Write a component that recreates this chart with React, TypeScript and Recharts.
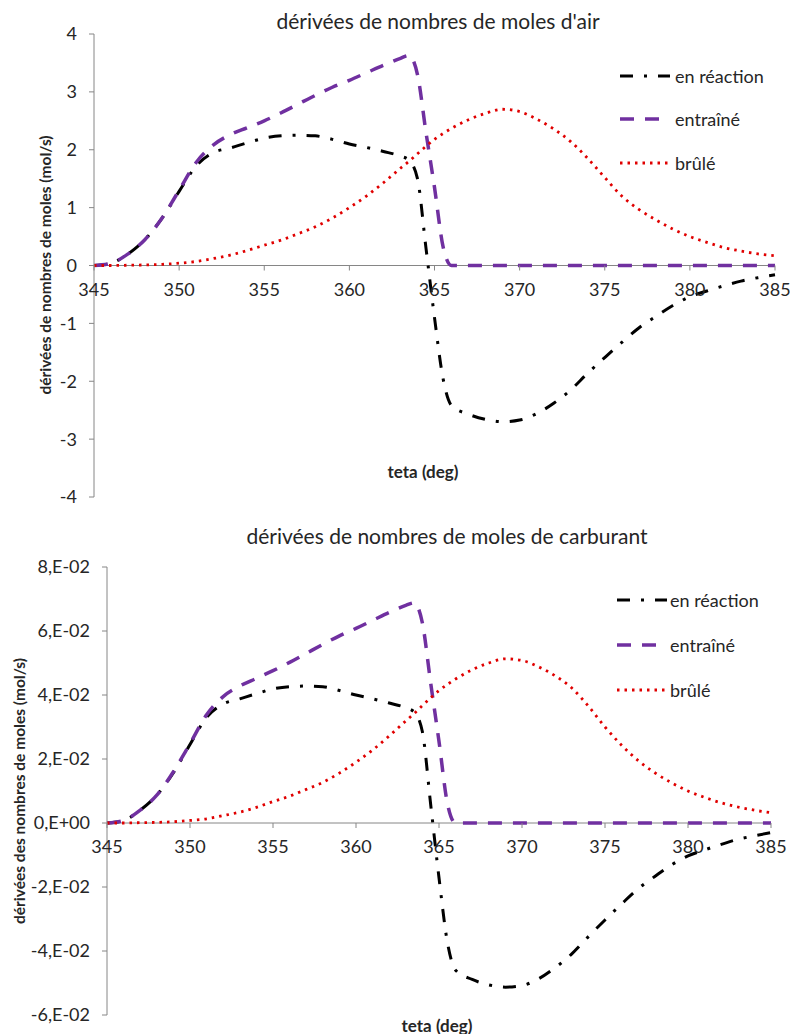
import React from 'react';
import { LineChart, Line, XAxis, YAxis, ReferenceLine } from 'recharts';

// ---------- data ----------
const teta = [
  345, 346, 347, 348, 349, 350, 351, 352, 353, 354, 355, 356, 357, 358, 359, 360, 361, 362, 363,
  363.5, 364, 364.5, 365, 365.5, 366,
  367, 368, 369, 370, 371, 372, 373, 374, 375, 376, 377, 378, 379, 380, 381, 382, 383, 384, 385,
];

const airEnReaction = [
  0, 0.04, 0.2, 0.45, 0.82, 1.28, 1.72, 1.95, 2.03, 2.12, 2.2, 2.24, 2.25, 2.24, 2.18, 2.1, 2.04, 1.97, 1.89,
  1.82, 1.5, 0.3, -0.9, -1.95, -2.42,
  -2.57, -2.66, -2.7, -2.67, -2.56, -2.38, -2.15, -1.86, -1.59, -1.33, -1.08, -0.88, -0.69, -0.54, -0.44, -0.35, -0.27, -0.21, -0.16,
];
const airEntraine = [
  0, 0.04, 0.2, 0.45, 0.82, 1.3, 1.78, 2.08, 2.26, 2.38, 2.5, 2.64, 2.79, 2.94, 3.08, 3.2, 3.33, 3.46, 3.58,
  3.63, 3.3, 2.3, 1.35, 0.33, 0,
  0, 0, 0, 0, 0, 0, 0, 0, 0, 0, 0, 0, 0, 0, 0, 0, 0, 0, 0,
];
const airBrule = [
  0, 0, 0.005, 0.01, 0.02, 0.04, 0.07, 0.12, 0.18, 0.26, 0.35, 0.44, 0.55, 0.67, 0.82, 1.0, 1.2, 1.43, 1.68,
  1.8, 1.93, 2.06, 2.18, 2.28, 2.37,
  2.52, 2.63, 2.7, 2.66, 2.53, 2.36, 2.14, 1.85, 1.52, 1.2, 0.97, 0.79, 0.63, 0.5, 0.4, 0.31, 0.25, 0.2, 0.17,
];

const carbEnReaction = [
  0, 0.0008, 0.004, 0.0087, 0.0157, 0.0245, 0.033, 0.0372, 0.0388, 0.0404, 0.0419, 0.0426, 0.0428, 0.0426, 0.0414, 0.04, 0.0388, 0.0375, 0.036,
  0.0347, 0.0285, 0.0057, -0.0171, -0.0371, -0.046,
  -0.0489, -0.0506, -0.0513, -0.0508, -0.0487, -0.0452, -0.0409, -0.0355, -0.0303, -0.0253, -0.0205, -0.0167, -0.0131, -0.0103, -0.0084, -0.0067, -0.0051, -0.004, -0.003,
];
const carbEntraine = [
  0, 0.0008, 0.004, 0.0087, 0.016, 0.0248, 0.0338, 0.0395, 0.0428, 0.0452, 0.0476, 0.0502, 0.053, 0.0558, 0.0585, 0.0608, 0.0633, 0.0658, 0.068,
  0.0688, 0.0625, 0.0437, 0.0255, 0.0063, 0,
  0, 0, 0, 0, 0, 0, 0, 0, 0, 0, 0, 0, 0, 0, 0, 0, 0, 0, 0,
];
const carbBrule = [
  0, 0, 0.0001, 0.0002, 0.0004, 0.0008, 0.0013, 0.0023, 0.0034, 0.0049, 0.0067, 0.0084, 0.0105, 0.0127, 0.0156, 0.019, 0.0228, 0.0272, 0.0319,
  0.0342, 0.0367, 0.0391, 0.0414, 0.0433, 0.045,
  0.0479, 0.05, 0.0513, 0.0508, 0.0488, 0.046, 0.0422, 0.0365, 0.03, 0.0243, 0.0195, 0.0157, 0.0126, 0.01, 0.008, 0.0063, 0.005, 0.004, 0.0032,
];

const xTicks = [345, 350, 355, 360, 365, 370, 375, 380, 385];
const airYTicks = [-4, -3, -2, -1, 0, 1, 2, 3, 4];
const carbYTicks = [-0.06, -0.04, -0.02, 0, 0.02, 0.04, 0.06, 0.08];
const carbYTickLabels = ['-6,E-02', '-4,E-02', '-2,E-02', '0,E+00', '2,E-02', '4,E-02', '6,E-02', '8,E-02'];
const seriesNames = ['en réaction', 'entraîné', 'brûlé'];

const airTitle = "dérivées de nombres de moles d'air";
const carbTitle = 'dérivées de nombres de moles de carburant';
const airYLabel = 'dérivées de nombres de moles (mol/s)';
const carbYLabel = 'dérivées des nombres de moles (mol/s)';
const xLabel = 'teta (deg)';

// ---------- styles ----------
const FONT = 'Lato, "Open Sans", sans-serif';
const AXIS = '#868686';
const TEXT = '#262626';
const STYLES = [
  { color: '#000000', dash: '13 11 3 11', width: 3 },
  { color: '#7030A0', dash: '14 11', width: 3.5 },
  { color: '#E00000', dash: '2.5 5', width: 2.8 },
];

const buildRows = (a: number[], b: number[], c: number[]) =>
  teta.map((t, i) => ({ t, s0: a[i], s1: b[i], s2: c[i] }));

const airRows = buildRows(airEnReaction, airEntraine, airBrule);
const carbRows = buildRows(carbEnReaction, carbEntraine, carbBrule);

const makeXTick = (zeroOffset: number) => (props: any) => {
  const { x, y, payload } = props;
  const zy = y - zeroOffset;
  return (
    <g>
      <line x1={x} x2={x} y1={zy} y2={zy + 5} stroke={AXIS} strokeWidth={1} />
      <text x={x} y={zy + 24} dy="0.35em" textAnchor="middle" fontSize={18} fill={TEXT} fontFamily={FONT}>
        {payload.value}
      </text>
    </g>
  );
};

const LegendBox = ({ left, top, rowH, textGap }: { left: number; top: number; rowH: number; textGap: number }) => (
  <div style={{ position: 'absolute', left, top, fontFamily: FONT }}>
    {seriesNames.map((n, i) => (
      <div key={n} style={{ display: 'flex', alignItems: 'center', height: rowH }}>
        <svg width={50} height={8} style={{ display: 'block' }}>
          <line x1={0} x2={50} y1={4} y2={4} stroke={STYLES[i].color} strokeWidth={STYLES[i].width} strokeDasharray={STYLES[i].dash} />
        </svg>
        <span style={{ marginLeft: textGap, fontSize: 18, color: TEXT, whiteSpace: 'nowrap', lineHeight: 1 }}>{n}</span>
      </div>
    ))}
  </div>
);

function renderLines() {
  return STYLES.map((s, i) => (
    <Line
      key={i}
      type="monotone"
      dataKey={'s' + i}
      name={seriesNames[i]}
      stroke={s.color}
      strokeWidth={s.width}
      strokeDasharray={s.dash}
      dot={false}
      activeDot={false}
      isAnimationActive={false}
    />
  ));
}

const textBase: React.CSSProperties = {
  position: 'absolute',
  fontFamily: FONT,
  color: TEXT,
  whiteSpace: 'nowrap',
  transform: 'translate(-50%, -50%)',
  lineHeight: 1,
};

export default function App() {
  const xAxisH = 1;
  // chart 1 geometry
  const h1 = 510, top1 = 34, bot1 = 12;
  const plotH1 = h1 - top1 - bot1 - xAxisH;
  const zero1 = (plotH1 * (0 - airYTicks[0])) / (airYTicks[airYTicks.length - 1] - airYTicks[0]);
  // chart 2 geometry
  const h2 = 524, top2 = 57, bot2 = 18;
  const plotH2 = h2 - top2 - bot2 - xAxisH;
  const zero2 = (plotH2 * (0 - carbYTicks[0])) / (carbYTicks[carbYTicks.length - 1] - carbYTicks[0]);

  return (
    <div style={{ position: 'absolute', left: 0, top: 0, width: 790, height: 1034, background: '#fff', overflow: 'hidden' }}>
      <div style={{ position: 'absolute', left: 0, top: 0 }}>
        <LineChart width={790} height={h1} data={airRows} margin={{ top: top1, right: 15, bottom: bot1, left: 0 }}>
          <XAxis
            dataKey="t"
            type="number"
            domain={[345, 385]}
            ticks={xTicks}
            height={xAxisH}
            axisLine={false}
            tickLine={false}
            tickSize={0}
            tickMargin={0}
            tick={makeXTick(zero1)}
            interval={0}
          />
          <YAxis
            type="number"
            domain={[-4, 4]}
            ticks={airYTicks}
            width={94}
            axisLine={{ stroke: AXIS }}
            tickLine={{ stroke: AXIS }}
            tickSize={5}
            tickMargin={12}
            tick={{ fontSize: 18, fill: TEXT, fontFamily: FONT }}
            interval={0}
          />
          <ReferenceLine y={0} stroke={AXIS} strokeWidth={1} />
          {renderLines()}
        </LineChart>
      </div>
      <div style={{ position: 'absolute', left: 0, top: 510 }}>
        <LineChart width={790} height={h2} data={carbRows} margin={{ top: top2, right: 19, bottom: bot2, left: 0 }}>
          <XAxis
            dataKey="t"
            type="number"
            domain={[345, 385]}
            ticks={xTicks}
            height={xAxisH}
            axisLine={false}
            tickLine={false}
            tickSize={0}
            tickMargin={0}
            tick={makeXTick(zero2)}
            interval={0}
          />
          <YAxis
            type="number"
            domain={[-0.06, 0.08]}
            ticks={carbYTicks}
            width={107}
            axisLine={{ stroke: AXIS }}
            tickLine={{ stroke: AXIS }}
            tickSize={5}
            tickMargin={12}
            tick={{ fontSize: 18, fill: TEXT, fontFamily: FONT }}
            tickFormatter={(v: number) => {
              const idx = carbYTicks.findIndex((t) => Math.abs(t - v) < 1e-9);
              return idx >= 0 ? carbYTickLabels[idx] : String(v);
            }}
            interval={0}
          />
          <ReferenceLine y={0} stroke={AXIS} strokeWidth={1} />
          {renderLines()}
        </LineChart>
      </div>

      <LegendBox left={620} top={54} rowH={43.5} textGap={5} />
      <LegendBox left={617} top={577.5} rowH={45} textGap={3} />

      <div style={{ ...textBase, left: 438, top: 20, fontSize: 21 }}>{airTitle}</div>
      <div style={{ ...textBase, left: 447, top: 535, fontSize: 21 }}>{carbTitle}</div>
      <div style={{ ...textBase, left: 46, top: 265, fontSize: 15.5, fontWeight: 700, transform: 'translate(-50%, -50%) rotate(-90deg)' }}>{airYLabel}</div>
      <div style={{ ...textBase, left: 20, top: 791, fontSize: 15.5, fontWeight: 700, transform: 'translate(-50%, -50%) rotate(-90deg)' }}>{carbYLabel}</div>
      <div style={{ ...textBase, left: 423, top: 471, fontSize: 17, fontWeight: 700 }}>{xLabel}</div>
      <div style={{ ...textBase, left: 437, top: 1025, fontSize: 17, fontWeight: 700 }}>{xLabel}</div>
    </div>
  );
}
